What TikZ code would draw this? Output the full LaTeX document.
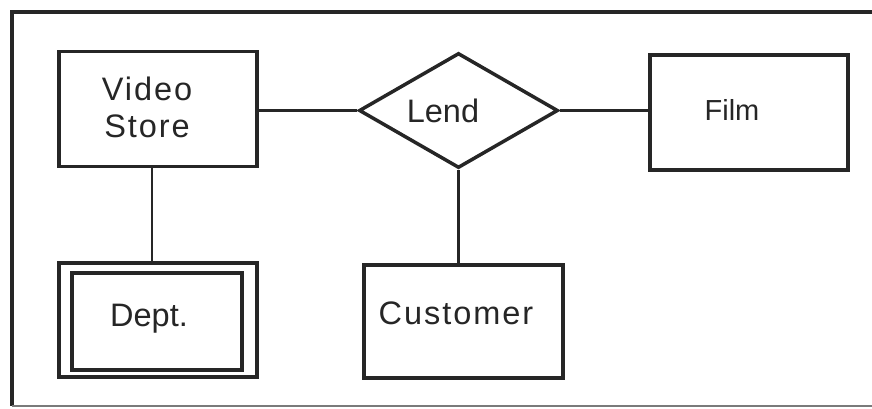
\documentclass[tikz,border=0pt]{standalone}
\usepackage{fontspec}
\setmainfont{Liberation Sans}
\usetikzlibrary{shapes.geometric,calc}
\definecolor{ink}{HTML}{262626}
\definecolor{fadeink}{HTML}{7A7A7A}
\tikzset{
  entity/.style={draw=ink, line width=3.3pt, rectangle, minimum width=198pt, minimum height=115pt, inner sep=0pt},
  relship/.style={draw=ink, line width=3.5pt, diamond, inner sep=0pt, minimum width=199pt, minimum height=115pt},
  lbl/.style={text=ink, font=\fontsize{32.5}{37}\selectfont, inner sep=0pt, align=center},
  conn/.style={draw=ink, line width=2.3pt},
  frame/.style={draw=ink, line width=4.3pt}
}
\begin{document}
\begin{tikzpicture}[x=1pt,y=-1pt]
\useasboundingbox (0,0) rectangle (872,408);
% frame
\coordinate (ftl) at (12,12);
\coordinate (ftr) at (872,12);
\coordinate (fbl) at (12,406);
\coordinate (fbr) at (872,406);
\draw[frame] (ftr) -- (ftl) -- (fbl);
\draw[frame, draw=fadeink, line width=2.8pt] (fbl) -- (fbr);
% entities
\node[entity] (vs) at (158,109) {};
\node[lbl, font=\fontsize{32.5}{37}\selectfont\addfontfeature{LetterSpace=6}] (vstxt) at (147,107) {Video\\Store};
\node[entity, minimum height=114pt] (dept) at (158,320) {};
\node[entity, minimum width=170pt, minimum height=97pt] (deptin) at (157,321.5) {};
\node[lbl] (depttxt) at (149,319) {Dept.};
\node[relship] (lend) at (458.5,110.5) {};
\node[lbl] (lendtxt) at (443,111) {Lend};
\node[entity] (film) at (749,112.5) {};
\node[lbl, font=\fontsize{29}{34}\selectfont] (filmtxt) at (732,110) {Film};
\node[entity, minimum width=199pt, minimum height=113pt] (cust) at (463.5,321.5) {};
\node[lbl, font=\fontsize{32.5}{37}\selectfont\addfontfeature{LetterSpace=6}] (custtxt) at (456,313) {Customer};
% connectors
\draw[conn] (lend.west) -- (lend.west -| vs.east);
\draw[conn] (lend.east) -- (lend.east -| film.west);
\draw[conn] ([xshift=-6pt]vs.south) -- ([xshift=-6pt]vs.south |- dept.north);
\draw[conn] (lend.south) -- (lend.south |- cust.north);
\end{tikzpicture}
\end{document}
